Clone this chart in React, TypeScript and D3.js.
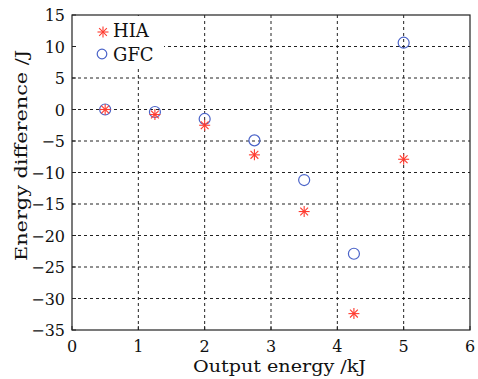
import React from "react";
import * as d3 from "d3";

const xValues = [0.5, 1.25, 2, 2.75, 3.5, 4.25, 5];
const hiaValues = [0, -0.8, -2.5, -7.2, -16.2, -32.4, -7.9];
const gfcValues = [0, -0.4, -1.5, -4.9, -11.2, -22.9, 10.6];
const xTicks = [0, 1, 2, 3, 4, 5, 6];
const yTicks = [-35, -30, -25, -20, -15, -10, -5, 0, 5, 10, 15];

const W = 478, H = 379;
const L = 72, R = 470, T = 15, B = 330;
const FONT = "'DejaVu Serif', 'Liberation Serif', serif";
const RED = "#ff3b2f";
const BLUE = "#4a63c8";

function Star({ cx, cy, r }: { cx: number; cy: number; r: number }) {
  const lines = [0, 45, 90, 135].map((a) => {
    const rad = (a * Math.PI) / 180;
    const dx = Math.cos(rad) * r, dy = Math.sin(rad) * r;
    return <line key={a} x1={cx - dx} y1={cy - dy} x2={cx + dx} y2={cy + dy} stroke={RED} strokeWidth={1.1} />;
  });
  return <g>{lines}</g>;
}

export default function App() {
  const x = d3.scaleLinear().domain([0, 6]).range([L, R]);
  const y = d3.scaleLinear().domain([-35, 15]).range([B, T]);
  return (
    <svg width={W} height={H} style={{ position: "absolute", left: 0, top: 0, background: "#fff" }}>
      {xTicks.slice(1, -1).map((t) => (
        <line key={"gx" + t} x1={x(t)} x2={x(t)} y1={T} y2={B} stroke="#222" strokeWidth={1} strokeDasharray="3,3" />
      ))}
      {yTicks.slice(1, -1).map((t) => (
        <line key={"gy" + t} x1={L} x2={R} y1={y(t)} y2={y(t)} stroke="#222" strokeWidth={1} strokeDasharray="3,3" />
      ))}
      <rect x={L + 1} y={T + 1} width={163 - L} height={67 - T} fill="#fff" />
      <rect x={L} y={T} width={R - L} height={B - T} fill="none" stroke="#222" strokeWidth={1.2} />
      {xTicks.map((t) => (
        <g key={"xt" + t}>
          <line x1={x(t)} x2={x(t)} y1={B} y2={B - 4} stroke="#222" />
          <text x={x(t)} y={352} textAnchor="middle" fontFamily={FONT} fontSize={16} fill="#111">{t}</text>
        </g>
      ))}
      {yTicks.map((t) => (
        <g key={"yt" + t}>
          <line x1={L} x2={L + 4} y1={y(t)} y2={y(t)} stroke="#222" />
          <text x={65} y={y(t) + 6} textAnchor="end" fontFamily={FONT} fontSize={16} fill="#111">{t < 0 ? "\u2212" + Math.abs(t) : t}</text>
        </g>
      ))}
      <text x={279.5} y={372} textAnchor="middle" fontFamily={FONT} fontSize={16} textLength={173} lengthAdjust="spacingAndGlyphs" fill="#111">Output energy /kJ</text>
      <text transform={`translate(27, 155.5) rotate(-90)`} textAnchor="middle" fontFamily={FONT} fontSize={16} textLength={211} lengthAdjust="spacingAndGlyphs" fill="#111">Energy difference /J</text>
      {xValues.map((v, i) => (
        <circle key={"g" + i} cx={x(v)} cy={y(gfcValues[i])} r={5.5} fill="none" stroke={BLUE} strokeWidth={1.2} />
      ))}
      {xValues.map((v, i) => (
        <Star key={"h" + i} cx={x(v)} cy={y(hiaValues[i])} r={5.5} />
      ))}
      <Star cx={103} cy={32} r={5.5} />
      <text x={113} y={37} fontFamily={FONT} fontSize={18} fill="#111">HIA</text>
      <circle cx={102} cy={54} r={4.8} fill="none" stroke={BLUE} strokeWidth={1.2} />
      <text x={113} y={61} fontFamily={FONT} fontSize={18} fill="#111">GFC</text>
    </svg>
  );
}
